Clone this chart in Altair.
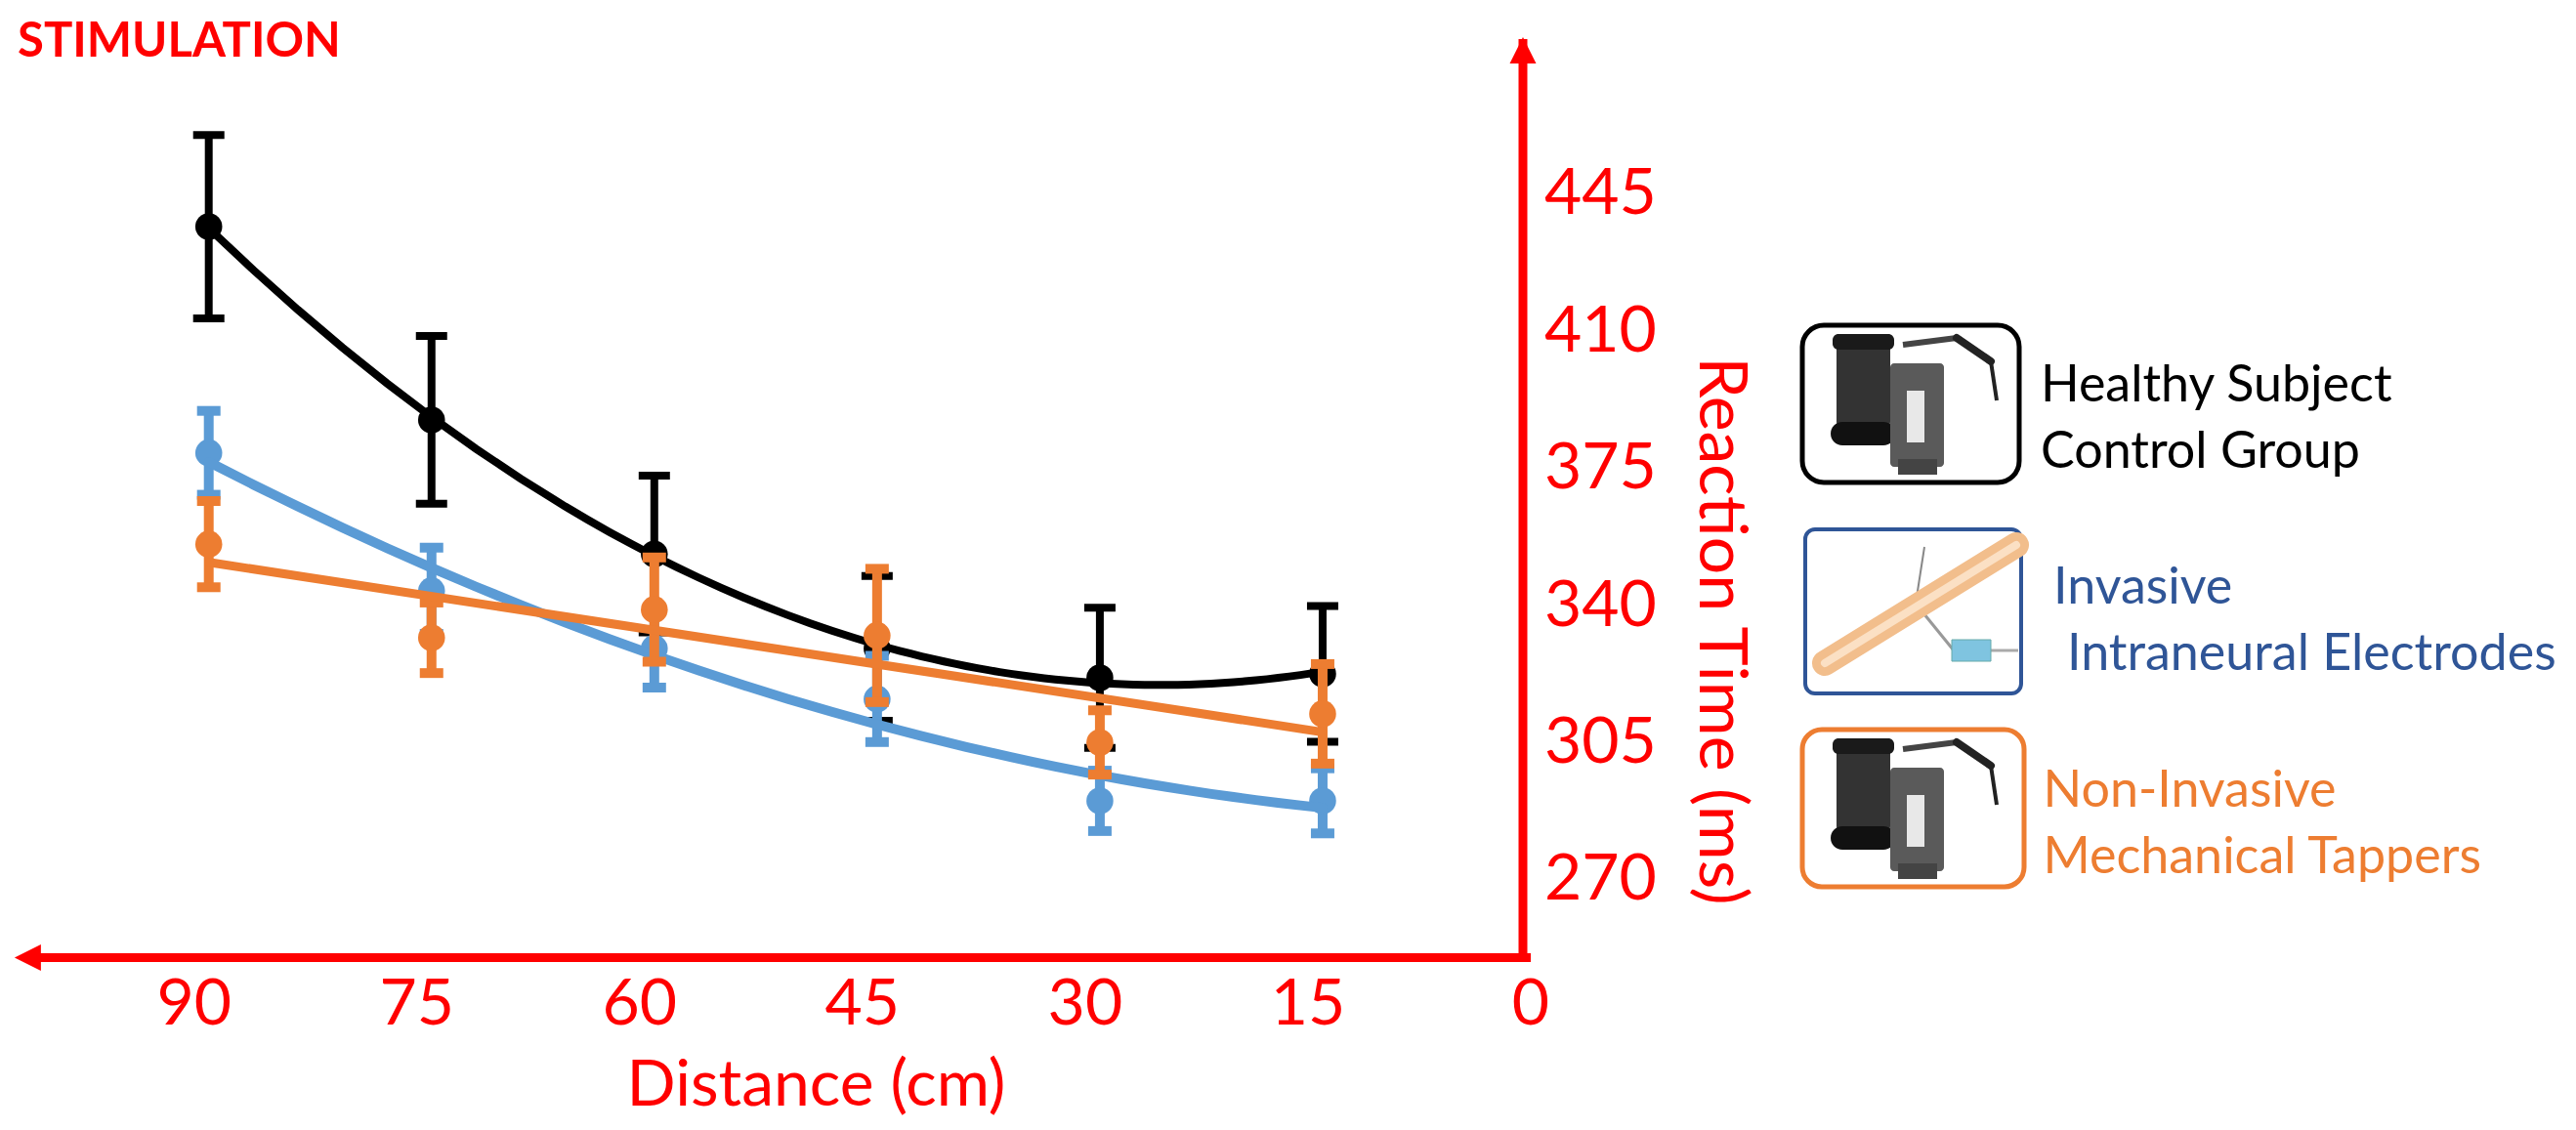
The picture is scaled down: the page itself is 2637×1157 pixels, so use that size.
import altair as alt
import pandas as pd

# ---------------- data ----------------
distance = [90, 75, 60, 45, 30, 15]
healthy_mean = [436.8, 387.5, 353.3, 329.2, 321.7, 322.7]
healthy_err = [23.4, 21.4, 20.0, 18.5, 17.9, 17.3]
invasive_mean = [379.1, 343.9, 329.2, 316.3, 290.3, 290.3]
invasive_err = [10.7, 11.0, 10.0, 11.0, 7.7, 8.3]
noninvasive_mean = [355.8, 331.9, 339.1, 332.5, 305.2, 312.5]
noninvasive_err = [11.0, 9.0, 13.3, 17.0, 8.2, 12.7]

x_ticks = [90, 75, 60, 45, 30, 15, 0]
y_ticks = [270, 305, 340, 375, 410, 445]

series = {
    "Healthy": (healthy_mean, healthy_err),
    "Invasive": (invasive_mean, invasive_err),
    "NonInvasive": (noninvasive_mean, noninvasive_err),
}

rows = []
for name, (means, errs) in series.items():
    for d, m, e in zip(distance, means, errs):
        rows.append({"series": name, "d": d, "mean": m, "err": e})
df = pd.DataFrame(rows)

RED = "#FF0000"
FONT = "Lato"

xs = alt.Scale(domain=[-68.80, 103.53], reverse=True, nice=False, zero=False)
ys = alt.Scale(domain=[208.56, 492.64], nice=False, zero=False)


def X(field):
    return alt.X(f"{field}:Q", scale=xs, axis=None)


def Y(field):
    return alt.Y(f"{field}:Q", scale=ys, axis=None)


def series_layers(name, color, lw, ew, cap, capw, psize, method, order=None):
    base = alt.Chart(df).transform_filter(alt.datum.series == name)
    withci = base.transform_calculate(lo="datum.mean - datum.err", hi="datum.mean + datum.err")
    rule = withci.mark_rule(color=color, strokeWidth=ew).encode(
        x=X("d"), y=Y("lo"), y2=alt.Y2("hi:Q"))
    caps = withci.transform_fold(["lo", "hi"], as_=["k", "cv"]).mark_tick(
        color=color, orient="horizontal", size=cap, thickness=capw, opacity=1
    ).encode(x=X("d"), y=Y("cv"))
    pts = base.mark_circle(color=color, size=psize, opacity=1).encode(x=X("d"), y=Y("mean"))
    if order is not None:
        reg = base.transform_regression("d", "mean", method=method, order=order)
    else:
        reg = base.transform_regression("d", "mean", method=method)
    fit = reg.mark_line(color=color, strokeWidth=lw, strokeCap="round").encode(
        x=X("d"), y=Y("mean"))
    return [rule, caps, pts, fit]


one = pd.DataFrame({"k": [0]})


def rect(x1, y1, x2, y2, **kw):
    return alt.Chart(one).mark_rect(**kw).encode(
        x=alt.value(x1), x2=alt.value(x2), y=alt.value(y1), y2=alt.value(y2))


def seg(x1, y1, x2, y2, **kw):
    return alt.Chart(one).mark_rule(**kw).encode(
        x=alt.value(x1), x2=alt.value(x2), y=alt.value(y1), y2=alt.value(y2))


def label(txt, x, y, **kw):
    return alt.Chart(one).mark_text(**kw).encode(
        x=alt.value(x), y=alt.value(y), text=alt.value(txt))


layers = []

# ---- data series ----
layers += series_layers("Healthy", "#000000", 8, 8, 32, 8, 760, "poly", 2)
layers += series_layers("Invasive", "#5B9BD5", 10, 10, 24, 10, 760, "poly", 2)
layers += series_layers("NonInvasive", "#ED7D31", 9, 10, 24, 10, 760, "linear")

# ---- axes (drawn as red arrows) ----
layers.append(seg(17, 972.5, 1559, 972.5, color=RED, strokeWidth=9))
layers.append(seg(1551, 32, 1551, 977, color=RED, strokeWidth=9))
layers.append(alt.Chart(one).mark_point(
    shape="M0,-1L1,1L-1,1Z", size=729, filled=True, color=RED, opacity=1
).encode(x=alt.value(1551), y=alt.value(43.5)))
layers.append(alt.Chart(one).mark_point(
    shape="M-1,0L1,-1L1,1Z", size=729, filled=True, color=RED, opacity=1
).encode(x=alt.value(20.4), y=alt.value(972.5)))

# tick labels
layers.append(alt.Chart(pd.DataFrame({"t": x_ticks})).mark_text(
    font=FONT, fontSize=66, color=RED, baseline="middle", align="center", dx=-15
).encode(x=X("t"), y=alt.value(1020.5), text="t:Q"))
layers.append(alt.Chart(pd.DataFrame({"t": y_ticks})).mark_text(
    font=FONT, fontSize=66, color=RED, baseline="middle", align="left"
).encode(x=alt.value(1573), y=Y("t"), text="t:Q"))

# axis titles
layers.append(label("Distance (cm)", 827.5, 1104, font=FONT, fontSize=66, color=RED,
                    align="center", baseline="middle"))
layers.append(label("Reaction Time (ms)", 1752, 638, font=FONT, fontSize=68, color=RED,
                    align="center", baseline="middle", angle=90))
layers.append(label("STIMULATION", 10, 50, font=FONT, fontSize=49, fontWeight="bold",
                    color=RED, align="left", baseline="alphabetic"))

# ---- legend boxes with simple icons ----
layers.append(rect(1837, 325, 2059, 486, fill="white", stroke="#000000", strokeWidth=5, cornerRadius=22))
layers.append(rect(1840, 534, 2061, 702, fill="white", stroke="#2F5597", strokeWidth=4, cornerRadius=10))
layers.append(rect(1837, 739, 2064, 900, fill="white", stroke="#ED7D31", strokeWidth=5, cornerRadius=20))

for dy in (0, 414):
    layers.append(seg(1940, 345 + dy, 1995, 338 + dy, color="#444444", strokeWidth=6))
    layers.append(seg(1995, 338 + dy, 2030, 362 + dy, color="#222222", strokeWidth=8, strokeCap="round"))
    layers.append(seg(2030, 362 + dy, 2036, 402 + dy, color="#222222", strokeWidth=4))
    layers.append(rect(1872, 340 + dy, 1927, 432 + dy, fill="#333333", cornerRadius=8))
    layers.append(rect(1868, 334 + dy, 1931, 350 + dy, fill="#1a1a1a", cornerRadius=6))
    layers.append(rect(1866, 424 + dy, 1932, 448 + dy, fill="#111111", cornerRadius=12))
    layers.append(rect(1927, 364 + dy, 1982, 470 + dy, fill="#5a5a5a", cornerRadius=4))
    layers.append(rect(1944, 392 + dy, 1962, 445 + dy, fill="#e8e8e8"))
    layers.append(rect(1935, 462 + dy, 1975, 478 + dy, fill="#444444"))

layers.append(seg(1962, 552, 1953, 610, color="#888888", strokeWidth=2))
layers.append(seg(1953, 610, 1992, 658, color="#999999", strokeWidth=3))
layers.append(seg(2030, 658, 2058, 658, color="#aaaaaa", strokeWidth=3))
layers.append(seg(1860, 671, 2056, 550, color="#F2BE8C", strokeWidth=26, strokeCap="round"))
layers.append(seg(1860, 671, 2056, 550, color="#FBE0C4", strokeWidth=8, strokeCap="round"))
layers.append(rect(1990, 647, 2030, 669, fill="#7FC4E0", stroke="#6aa", strokeWidth=1))

# legend texts
LFS = 52
layers.append(label("Healthy Subject", 2081, 387, font=FONT, fontSize=LFS, color="#000000", align="left"))
layers.append(label("Control Group", 2081, 455, font=FONT, fontSize=LFS, color="#000000", align="left"))
layers.append(label("Invasive", 2094, 594, font=FONT, fontSize=LFS, color="#2F5597", align="left"))
layers.append(label("Intraneural Electrodes", 2108, 662, font=FONT, fontSize=LFS, color="#2F5597", align="left"))
layers.append(label("Non-Invasive", 2083.5, 802, font=FONT, fontSize=LFS, color="#ED7D31", align="left"))
layers.append(label("Mechanical Tappers", 2083.5, 870, font=FONT, fontSize=LFS, color="#ED7D31", align="left"))

chart = alt.layer(*layers).properties(
    width=2620, height=1140, padding=0,
    autosize=alt.AutoSizeParams(type="none"),
    background="white",
).configure_view(stroke=None)

chart.save("out.html", embed_options={"renderer": "svg", "actions": False})
